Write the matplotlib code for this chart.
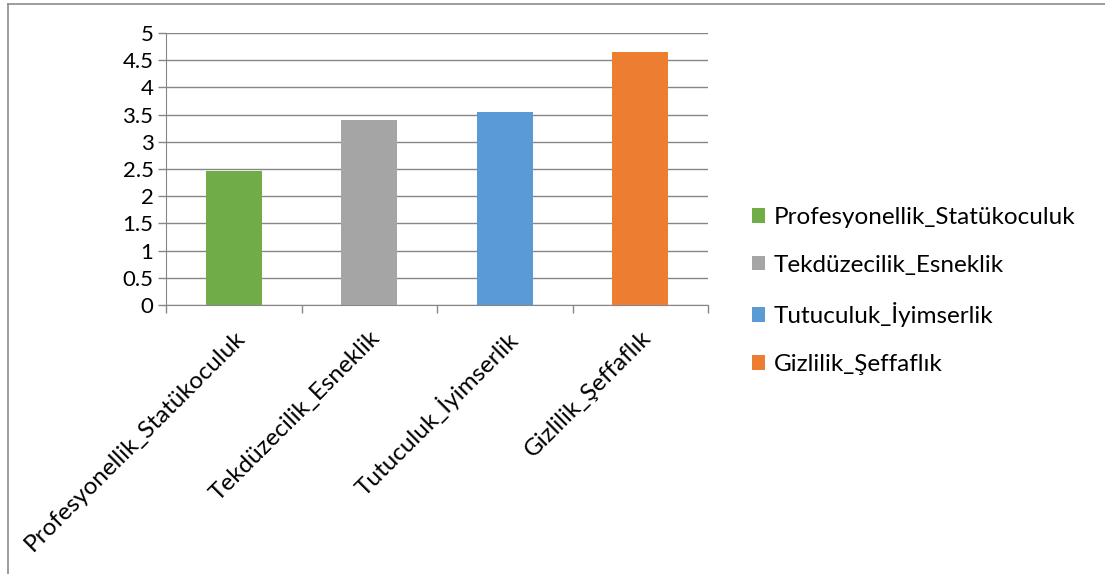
import numpy as np
import matplotlib
matplotlib.use('Agg')
import matplotlib.pyplot as plt
from matplotlib.patches import Patch
from matplotlib.lines import Line2D

# data
categories = ['Profesyonellik_Statükoculuk', 'Tekdüzecilik_Esneklik',
              'Tutuculuk_İyimserlik', 'Gizlilik_Şeffaflık']
values = [2.46, 3.40, 3.55, 4.65]
colors = ['#70AD47', '#A5A5A5', '#5B9BD5', '#ED7D31']
yticks = [0, 0.5, 1, 1.5, 2, 2.5, 3, 3.5, 4, 4.5, 5]
ytick_labels = ['0', '0.5', '1', '1.5', '2', '2.5', '3', '3.5', '4', '4.5', '5']

plt.rcParams['font.family'] = ['Lato', 'DejaVu Sans']

fig = plt.figure(figsize=(11.05, 5.74), dpi=100)
ax = fig.add_axes([166 / 1105, 1 - 305 / 574, (708 - 166) / 1105, (305 - 33) / 574])

x = np.arange(len(categories))
ax.bar(x, values, width=0.41, color=colors, zorder=3)

ax.set_xlim(-0.5, len(categories) - 0.5)
ax.set_ylim(0, 5)
ax.set_yticks(yticks)
ax.set_yticklabels(ytick_labels, fontsize=16)
ax.yaxis.grid(True, color='#868686', linewidth=1.0, zorder=0)

# category labels, boundaries get tick marks
ax.set_xticks(x)
ax.set_xticklabels(categories, fontsize=17.5, rotation=45, ha='right',
                   rotation_mode='anchor')
ax.tick_params(axis='x', length=0, pad=16)
ax.set_xticks(np.arange(-0.5, len(categories)), minor=True)
ax.tick_params(axis='x', which='minor', length=6, color='#868686', width=1)
ax.tick_params(axis='y', length=6, color='#868686', width=1, pad=3)

for side in ['top', 'right']:
    ax.spines[side].set_visible(False)
ax.spines['left'].set_color('#868686')
ax.spines['bottom'].set_color('#868686')

handles = [Patch(facecolor=c, edgecolor='none') for c in colors]
fig.legend(handles, categories, loc='center left',
           bbox_to_anchor=(730 / 1105, 1 - 291 / 574), frameon=False,
           fontsize=17.5, handlelength=0.55, handleheight=0.55,
           handletextpad=0.35, labelspacing=1.1)

# chart-area border: only top and left edges show in the crop
bx, by = 7.5 / 1105, 1 - 3.5 / 574
fig.lines.append(Line2D([bx, 1], [by, by], transform=fig.transFigure,
                        color='#8C8C8C', linewidth=1.2))
fig.lines.append(Line2D([bx, bx], [0, by], transform=fig.transFigure,
                        color='#8C8C8C', linewidth=1.2))

fig.savefig('out.png', dpi=100)
